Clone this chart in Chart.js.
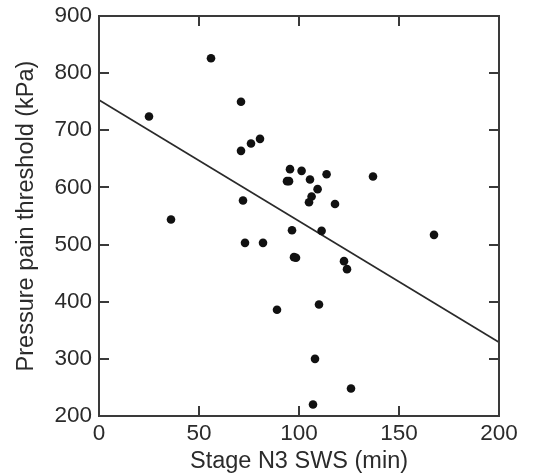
<!DOCTYPE html>
<html>
<head>
<meta charset="utf-8">
<script src="https://cdn.jsdelivr.net/npm/chart.js@4.4.1/dist/chart.umd.min.js"></script>
<style>
  html, body { margin: 0; padding: 0; background: #ffffff; }
  #wrap { width: 533px; height: 474px; position: relative; }
</style>
</head>
<body>
<div id="wrap"><canvas id="c" width="533" height="474"></canvas></div>
<script>
// ---- Data ----
const swsMin = [25, 56, 36, 71, 71, 76, 80.5, 72, 73, 82, 89, 95.5, 94, 95, 101.3, 105.5, 113.8, 109.3, 106.3, 105, 118, 96.5, 111.3, 97.5, 98.5, 122.5, 124, 110, 108, 126, 107, 137, 167.5];
const pptKPa = [724, 826, 544, 750, 664, 677, 685, 577, 503, 503, 386, 632, 611, 611, 629, 614, 623, 597, 584, 574, 571, 525, 524, 478, 477, 471, 457, 395, 300, 248, 220, 619, 517];
const fitX = [0, 200];
const fitY = [753, 329];
const xTickValues = [0, 50, 100, 150, 200];
const yTickValues = [200, 300, 400, 500, 600, 700, 800, 900];
const xTitle = 'Stage N3 SWS (min)';
const yTitle = 'Pressure pain threshold (kPa)';

const textColor = '#2b2b2b';
const frameColor = '#3a3a3a';

const scatterData = swsMin.map((x, i) => ({ x: x, y: pptKPa[i] }));
const lineData = fitX.map((x, i) => ({ x: x, y: fitY[i] }));

const frameTicks = {
  id: 'frameTicks',
  afterDatasetsDraw(chart) {
    const { ctx, chartArea: a, scales } = chart;
    ctx.save();
    ctx.strokeStyle = frameColor;
    ctx.lineWidth = 2;
    ctx.strokeRect(a.left, a.top, a.right - a.left, a.bottom - a.top);
    const len = 10;
    ctx.beginPath();
    xTickValues.forEach(v => {
      const px = Math.round(scales.x.getPixelForValue(v));
      ctx.moveTo(px, a.bottom); ctx.lineTo(px, a.bottom - len);
      ctx.moveTo(px, a.top); ctx.lineTo(px, a.top + len);
    });
    yTickValues.forEach(v => {
      const py = Math.round(scales.y.getPixelForValue(v));
      ctx.moveTo(a.left, py); ctx.lineTo(a.left + len, py);
      ctx.moveTo(a.right, py); ctx.lineTo(a.right - len, py);
    });
    ctx.stroke();
    ctx.restore();
  }
};

new Chart(document.getElementById('c'), {
  type: 'scatter',
  data: {
    datasets: [
      {
        type: 'scatter',
        data: scatterData,
        backgroundColor: '#111111',
        borderColor: '#111111',
        pointRadius: 4.3,
        pointHoverRadius: 4.3,
        borderWidth: 0
      },
      {
        type: 'line',
        data: lineData,
        borderColor: '#2a2a2a',
        borderWidth: 1.7,
        pointRadius: 0,
        fill: false,
        tension: 0
      }
    ]
  },
  options: {
    responsive: false,
    animation: false,
    devicePixelRatio: 1,
    layout: { padding: { left: 0, right: 34, top: 16, bottom: 0 } },
    plugins: { legend: { display: false }, tooltip: { enabled: false } },
    scales: {
      x: {
        type: 'linear',
        min: 0, max: 200,
        afterBuildTicks: s => { s.ticks = xTickValues.map(v => ({ value: v })); },
        afterFit: s => { s.height = 58; s.paddingLeft = 0; s.paddingRight = 0; },
        grid: { display: false, drawTicks: false },
        border: { display: false },
        ticks: { color: textColor, font: { family: 'Liberation Sans, Arial', size: 22.5 }, padding: 4, maxRotation: 0, autoSkip: false },
        title: { display: true, text: xTitle, color: textColor, font: { family: 'Liberation Sans, Arial', size: 23.5, lineHeight: 1.1 }, padding: { top: 0, bottom: 0 } }
      },
      y: {
        type: 'linear',
        min: 200, max: 900,
        afterBuildTicks: s => { s.ticks = yTickValues.map(v => ({ value: v })); },
        afterFit: s => { s.width = 99; s.paddingTop = 0; s.paddingBottom = 0; },
        grid: { display: false, drawTicks: false },
        border: { display: false },
        ticks: { color: textColor, font: { family: 'Liberation Sans, Arial', size: 22.5 }, padding: 7, autoSkip: false },
        title: { display: true, text: yTitle, color: textColor, font: { family: 'Liberation Sans, Arial', size: 23.5 }, padding: { top: 12.5, bottom: 0 } }
      }
    }
  },
  plugins: [frameTicks]
});
</script>
</body>
</html>
